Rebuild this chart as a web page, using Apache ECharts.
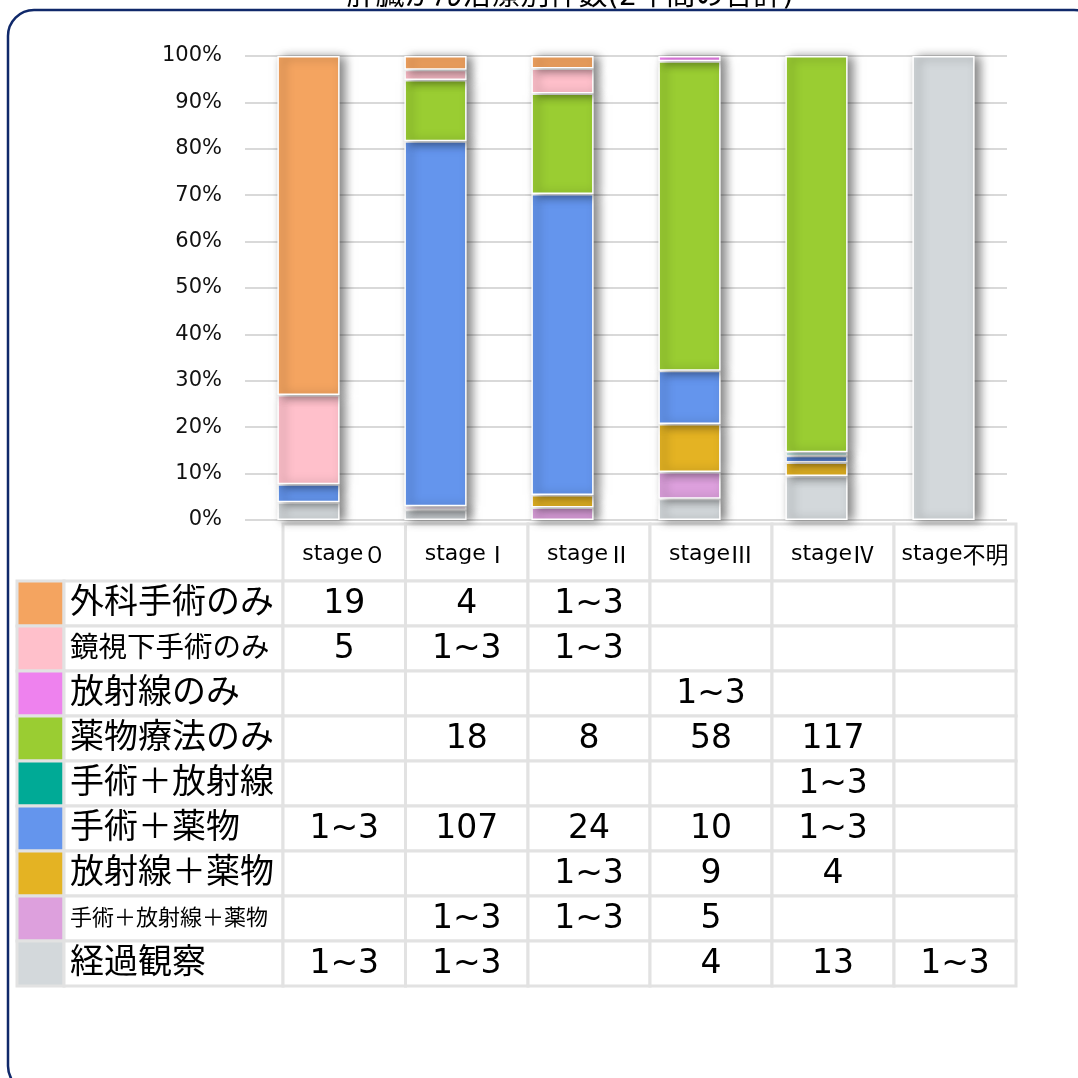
<!DOCTYPE html>
<html>
<head>
<meta charset="utf-8">
<script src="https://cdn.jsdelivr.net/npm/echarts@6/dist/echarts.min.js"></script>
<style>
html,body{margin:0;padding:0;background:#fff;}
#main{width:1078px;height:1078px;}
</style>
</head>
<body>
<div id="main"></div>
<script>
// ---- data ----
const titleText = '肝臓がん治療別件数(2年間の合計)';
const stagePrefix = 'stage';
const stageSuffixes = ['０', 'Ⅰ', 'Ⅱ', 'Ⅲ', 'Ⅳ', '不明'];
const categories = stageSuffixes.map(s => stagePrefix + s);
const treatments = ['外科手術のみ', '鏡視下手術のみ', '放射線のみ', '薬物療法のみ', '手術＋放射線', '手術＋薬物', '放射線＋薬物', '手術＋放射線＋薬物', '経過観察'];
// counts used for the bars ("1~3" cells)
const surgeryOnly      = [19, 4, 1, 0, 0, 0];
const endoscopicOnly   = [5, 3, 2, 0, 0, 0];
const radiationOnly    = [0, 0, 0, 1, 0, 0];
const drugOnly         = [0, 18, 8, 58, 117, 0];
const surgeryRadiation = [0, 0, 0, 0, 1, 0];
const surgeryDrug      = [1, 107, 24, 10, 2, 0];
const radiationDrug    = [0, 0, 1, 9, 4, 0];
const allThree         = [0, 1, 1, 5, 0, 0];
const observation      = [1, 3, 0, 4, 13, 1];
// table texts
const tSurgeryOnly      = ['19', '4', '1~3', '', '', ''];
const tEndoscopicOnly   = ['5', '1~3', '1~3', '', '', ''];
const tRadiationOnly    = ['', '', '', '1~3', '', ''];
const tDrugOnly         = ['', '18', '8', '58', '117', ''];
const tSurgeryRadiation = ['', '', '', '', '1~3', ''];
const tSurgeryDrug      = ['1~3', '107', '24', '10', '1~3', ''];
const tRadiationDrug    = ['', '', '1~3', '9', '4', ''];
const tAllThree         = ['', '1~3', '1~3', '5', '', ''];
const tObservation      = ['1~3', '1~3', '', '4', '13', '1~3'];
const yTicks = [0, 10, 20, 30, 40, 50, 60, 70, 80, 90, 100];

// ---- styles ----
const colors = ['#F4A460', '#FFC0CB', '#EE82EE', '#9ACD32', '#00AA96', '#6495ED', '#E4B323', '#DDA0DD', '#D3D8DB'];
const labelFontSizes = [34, 28.5, 34, 34, 34, 34, 34, 22, 34];
const FONT = "'DejaVu Sans','Noto Sans CJK JP',sans-serif";
const CJK = "'Noto Sans CJK JP',sans-serif";

const counts = [surgeryOnly, endoscopicOnly, radiationOnly, drugOnly, surgeryRadiation, surgeryDrug, radiationDrug, allThree, observation];
const texts = [tSurgeryOnly, tEndoscopicOnly, tRadiationOnly, tDrugOnly, tSurgeryRadiation, tSurgeryDrug, tRadiationDrug, tAllThree, tObservation];
const totals = categories.map((c, i) => counts.reduce((s, arr) => s + arr[i], 0));

// stack from bottom: reverse of table order
const series = [];
for (let k = treatments.length - 1; k >= 0; k--) {
  series.push({
    name: treatments[k],
    type: 'bar',
    stack: 'total',
    barWidth: '49%',
    data: counts[k].map((v, i) => v ? v / totals[i] * 100 : '-'),
    itemStyle: {
      color: colors[k],
      borderColor: '#ffffff',
      borderWidth: 1.5,
      shadowColor: 'rgba(0,0,0,0.5)',
      shadowBlur: 10,
      shadowOffsetX: 5,
      shadowOffsetY: 1
    },
    emphasis: { disabled: true },
    animation: false
  });
}

// ---- table via graphic ----
const colX = [17, 64, 283, 405.5, 528, 650, 772, 894, 1016];
const headTop = 524, headBottom = 581, rowH = 45;
const gridColor = '#e2e2e2';
const graphics = [];
// border
graphics.push({ type: 'rect', shape: { x: 8, y: 10, width: 1092, height: 1082, r: 26 },
  style: { fill: 'none', stroke: '#10296a', lineWidth: 2.5 }, z: 10 });
// title
graphics.push({ type: 'text', x: 570, y: -3, style: { text: titleText, font: '29px ' + FONT, fill: '#000', textAlign: 'center', textVerticalAlign: 'middle' }, z: 11 });
// header
for (let j = 0; j < categories.length; j++) {
  const x0 = colX[j + 2], x1 = colX[j + 3];
  graphics.push({ type: 'rect', shape: { x: x0, y: headTop, width: x1 - x0, height: headBottom - headTop },
    style: { fill: '#fff', stroke: gridColor, lineWidth: 3 } });
  graphics.push({ type: 'text', x: (x0 + x1) / 2, y: (headTop + headBottom) / 2 + 2,
    style: { text: '{a|' + stagePrefix + '}{b|' + stageSuffixes[j] + '}', textAlign: 'center', textVerticalAlign: 'middle',
      rich: {
        a: { fontSize: 22, fontFamily: "'DejaVu Sans'", fill: '#000', lineHeight: 30 },
        b: { fontSize: 23, fontFamily: "'Noto Sans CJK JP'", fill: '#000', lineHeight: 30 }
      } }, z: 5 });
}
for (let r = 0; r < treatments.length; r++) {
  const y0 = headBottom + r * rowH, y1 = y0 + rowH;
  graphics.push({ type: 'rect', shape: { x: colX[0], y: y0, width: colX[1] - colX[0], height: rowH },
    style: { fill: colors[r], stroke: gridColor, lineWidth: 3 } });
  graphics.push({ type: 'rect', shape: { x: colX[1], y: y0, width: colX[2] - colX[1], height: rowH },
    style: { fill: '#fff', stroke: gridColor, lineWidth: 3 } });
  graphics.push({ type: 'text', x: 70, y: (y0 + y1) / 2 + 1,
    style: { text: treatments[r], font: labelFontSizes[r] + 'px ' + FONT, fill: '#000', textAlign: 'left', textVerticalAlign: 'middle' }, z: 5 });
  for (let j = 0; j < categories.length; j++) {
    const x0 = colX[j + 2], x1 = colX[j + 3];
    graphics.push({ type: 'rect', shape: { x: x0, y: y0, width: x1 - x0, height: rowH },
      style: { fill: '#fff', stroke: gridColor, lineWidth: 3 } });
    if (texts[r][j]) {
      graphics.push({ type: 'text', x: (x0 + x1) / 2, y: (y0 + y1) / 2 + 1,
        style: { text: texts[r][j], font: '33px ' + FONT, fill: '#000', textAlign: 'center', textVerticalAlign: 'middle' }, z: 5 });
    }
  }
}

const chart = echarts.init(document.getElementById('main'), null, { renderer: 'canvas' });
chart.setOption({
  animation: false,
  grid: { left: 245, right: 71, top: 56, bottom: 558, containLabel: false },
  xAxis: {
    type: 'category', data: categories,
    axisLine: { show: false }, axisTick: { show: false }, axisLabel: { show: false }
  },
  yAxis: {
    type: 'value', min: yTicks[0], max: yTicks[yTicks.length - 1], interval: 10,
    axisLine: { show: false }, axisTick: { show: false },
    axisLabel: { formatter: '{value}%', fontSize: 21, color: '#111', margin: 23, fontFamily: FONT },
    splitLine: { lineStyle: { color: '#d9d9d9', width: 2 } }
  },
  series: series,
  graphic: graphics
});
</script>
</body>
</html>
